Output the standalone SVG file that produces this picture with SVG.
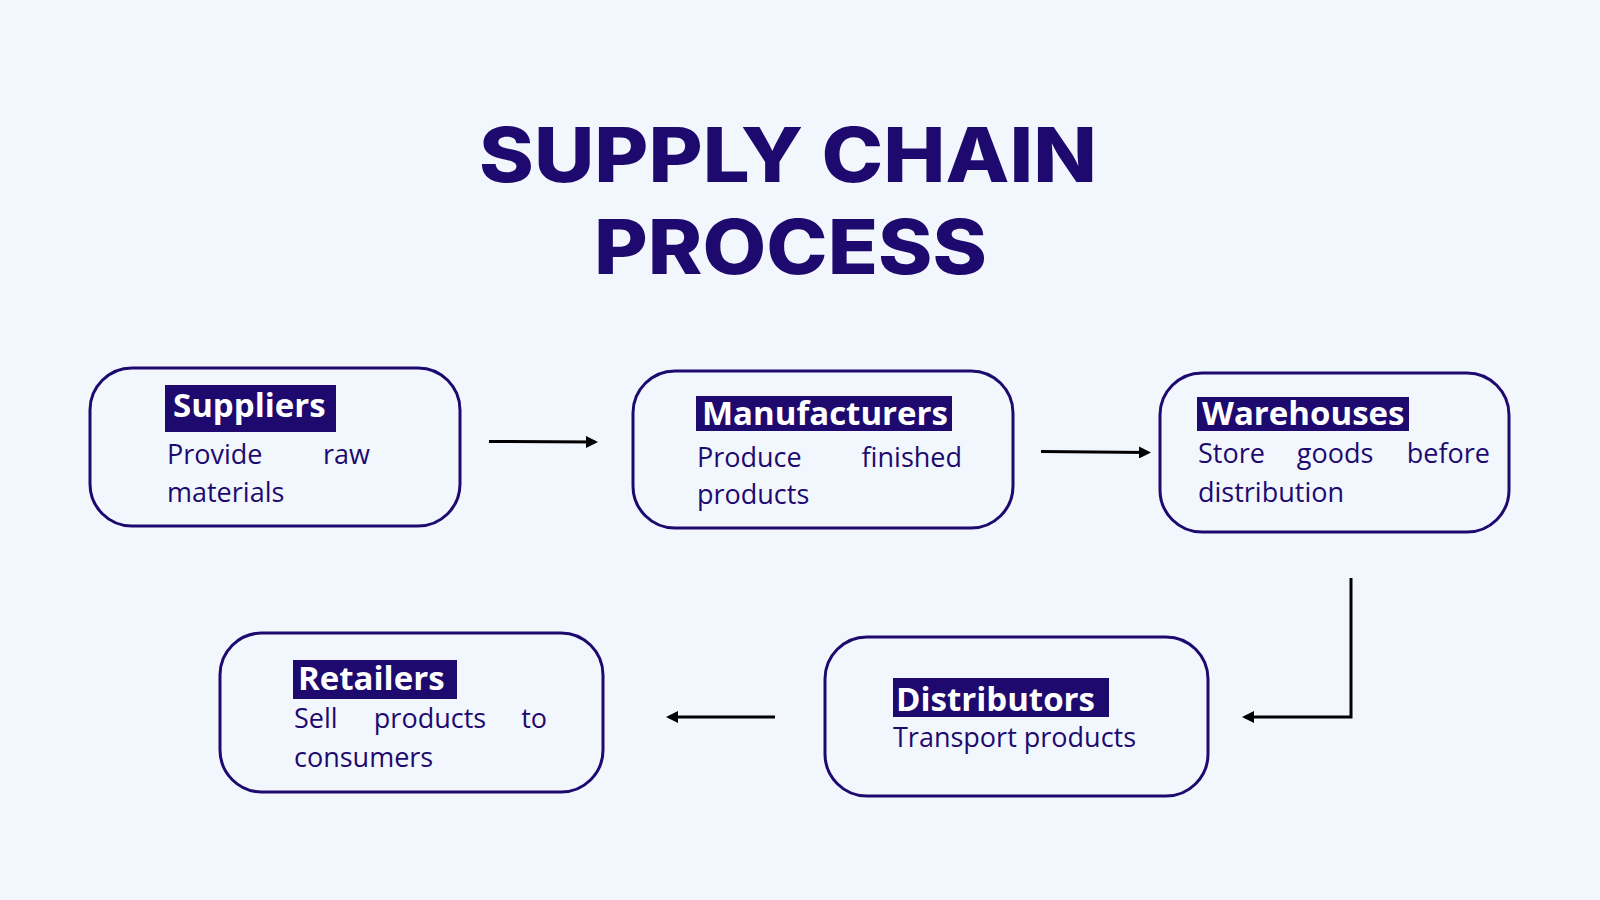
<svg xmlns="http://www.w3.org/2000/svg" width="1600" height="900" viewBox="0 0 1600 900">
  <defs>
    <style>
      .bg { fill: #f2f7fe; }
      .title { font-family: "Inter", "Liberation Sans", sans-serif; font-weight: 800; font-size: 75px; fill: #1e0a6e; }
      .box { fill: #f2f7fe; stroke: #1e0a6e; stroke-width: 3; }
      .hl { fill: #1e0a6e; }
      .label { font-family: "Open Sans", "Liberation Sans", sans-serif; font-weight: 700; font-size: 33px; fill: #ffffff; }
      .body { font-family: "Open Sans", "Liberation Sans", sans-serif; font-weight: 400; font-size: 27px; fill: #1e0a6e; }
      .conn { fill: none; stroke: #000000; stroke-width: 3; }
    </style>
    <marker id="arrow" viewBox="0 0 12 12" refX="9" refY="6" markerWidth="12" markerHeight="12" markerUnits="userSpaceOnUse" orient="auto">
      <path d="M0,0 L12,6 L0,12 z" fill="#000000"/>
    </marker>
  </defs>

  <rect class="bg" x="0" y="0" width="1600" height="900"/>

  <g id="title">
    <text class="title" x="479" y="182" textLength="618" lengthAdjust="spacingAndGlyphs">SUPPLY CHAIN</text>
    <text class="title" x="594" y="274" textLength="393" lengthAdjust="spacingAndGlyphs">PROCESS</text>
  </g>

  <g id="connectors">
    <path class="conn" d="M489,441.5 L595,442" marker-end="url(#arrow)"/>
    <path class="conn" d="M1041,451.5 L1148,452.5" marker-end="url(#arrow)"/>
    <path class="conn" d="M1351,578 V717 H1245" marker-end="url(#arrow)"/>
    <path class="conn" d="M775,717 H669" marker-end="url(#arrow)"/>
  </g>

  <g id="suppliers">
    <rect class="box" x="90" y="368" width="370" height="158" rx="42" ry="42"/>
    <rect class="hl" x="165" y="385" width="171" height="47"/>
    <text class="label" x="173" y="417">Suppliers</text>
    <text class="body" y="464"><tspan x="167">Provide</tspan><tspan x="370" text-anchor="end">raw</tspan></text>
    <text class="body" x="167" y="502">materials</text>
  </g>

  <g id="manufacturers">
    <rect class="box" x="633" y="371" width="380" height="157" rx="42" ry="42"/>
    <rect class="hl" x="696" y="396" width="256" height="35"/>
    <text class="label" x="702" y="425">Manufacturers</text>
    <text class="body" y="467"><tspan x="697">Produce</tspan><tspan x="962" text-anchor="end">finished</tspan></text>
    <text class="body" x="697" y="504">products</text>
  </g>

  <g id="warehouses">
    <rect class="box" x="1160" y="373" width="349" height="159" rx="42" ry="42"/>
    <rect class="hl" x="1197" y="397" width="212" height="34"/>
    <text class="label" x="1202" y="425">Warehouses</text>
    <text class="body" y="463"><tspan x="1198">Store</tspan><tspan x="1335" text-anchor="middle">goods</tspan><tspan x="1490" text-anchor="end">before</tspan></text>
    <text class="body" x="1198" y="502">distribution</text>
  </g>

  <g id="distributors">
    <rect class="box" x="825" y="637" width="383" height="159" rx="42" ry="42"/>
    <rect class="hl" x="893" y="678" width="216" height="39"/>
    <text class="label" x="896" y="711">Distributors</text>
    <text class="body" x="893" y="747">Transport products</text>
  </g>

  <g id="retailers">
    <rect class="box" x="220" y="633" width="383" height="159" rx="42" ry="42"/>
    <rect class="hl" x="293" y="660" width="164" height="39"/>
    <text class="label" x="298" y="690">Retailers</text>
    <text class="body" y="728"><tspan x="294">Sell</tspan><tspan x="430" text-anchor="middle">products</tspan><tspan x="547" text-anchor="end">to</tspan></text>
    <text class="body" x="294" y="767">consumers</text>
  </g>
</svg>
